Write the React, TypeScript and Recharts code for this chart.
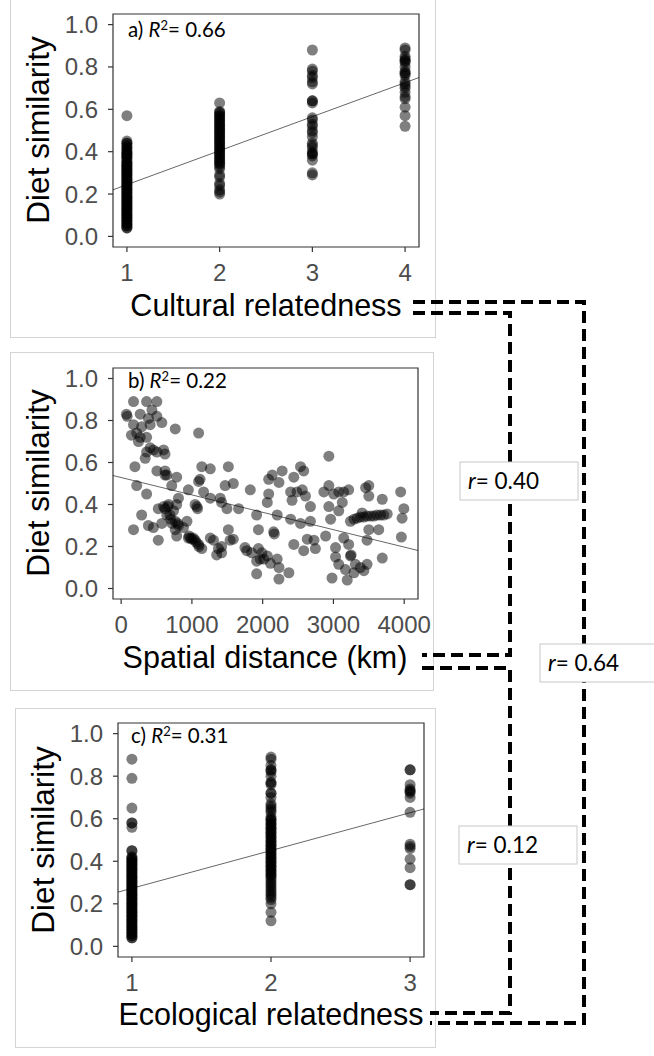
import React from 'react';
import { ScatterChart, Scatter, XAxis, YAxis, ReferenceArea, ReferenceLine } from 'recharts';

// a) diet similarity by cultural relatedness (values per level)
const cultural1 = [
  0.57, 0.45, 0.44, 0.44, 0.43, 0.42, 0.42, 0.41, 0.40, 0.40, 0.39, 0.39, 0.38, 0.38, 0.37, 0.37,
  0.36, 0.35, 0.35, 0.34, 0.34, 0.33, 0.33, 0.32, 0.32, 0.31, 0.31, 0.30, 0.30, 0.29, 0.29, 0.28,
  0.28, 0.27, 0.27, 0.26, 0.26, 0.25, 0.25, 0.24, 0.24, 0.23, 0.23, 0.22, 0.22, 0.21, 0.21, 0.20,
  0.20, 0.19, 0.19, 0.18, 0.18, 0.17, 0.17, 0.16, 0.16, 0.15, 0.15, 0.14, 0.14, 0.13, 0.13, 0.12,
  0.12, 0.11, 0.11, 0.10, 0.10, 0.09, 0.09, 0.08, 0.08, 0.07, 0.07, 0.06, 0.06, 0.05, 0.05, 0.04, 0.04,
];
const cultural2 = [
  0.63, 0.59, 0.585, 0.58, 0.57, 0.565, 0.56, 0.55, 0.545, 0.54, 0.53, 0.525, 0.52, 0.51, 0.505, 0.50,
  0.49, 0.485, 0.48, 0.47, 0.465, 0.46, 0.45, 0.445, 0.44, 0.43, 0.425, 0.42, 0.41, 0.405, 0.40, 0.39,
  0.385, 0.38, 0.37, 0.365, 0.36, 0.35, 0.345, 0.34, 0.33, 0.32, 0.29, 0.28, 0.25, 0.24, 0.22, 0.21, 0.20,
];
const cultural3 = [
  0.88, 0.79, 0.78, 0.76, 0.75, 0.73, 0.72, 0.64, 0.64, 0.63, 0.56, 0.55, 0.53, 0.52, 0.50, 0.49, 0.47,
  0.44, 0.43, 0.42, 0.40, 0.39, 0.39, 0.38, 0.36, 0.30, 0.29,
];
const cultural4 = [
  0.89, 0.88, 0.85, 0.84, 0.83, 0.83, 0.82, 0.80, 0.78, 0.77, 0.77, 0.76, 0.73, 0.72, 0.71, 0.70, 0.68, 0.66,
  0.65, 0.61, 0.57, 0.52,
];
const culturalTicks = [1, 2, 3, 4];
const culturalFit = [{ x: 0.85, y: 0.22 }, { x: 4.15, y: 0.75 }];

// b) diet similarity by spatial distance: [km, similarity]
const spatialPairs: [number, number][] = [
  [75, 0.83], [85, 0.82], [175, 0.89], [360, 0.89], [505, 0.89], [270, 0.83], [435, 0.85], [505, 0.82],
  [385, 0.81], [175, 0.78], [290, 0.77], [410, 0.78], [575, 0.79], [765, 0.76], [1095, 0.74], [145, 0.73],
  [220, 0.74], [270, 0.72], [360, 0.72], [245, 0.70], [410, 0.67], [455, 0.66], [505, 0.65], [600, 0.66],
  [620, 0.64], [360, 0.65], [340, 0.62], [195, 0.58], [505, 0.56], [620, 0.56], [620, 0.54], [645, 0.54],
  [785, 0.53], [715, 0.49], [220, 0.49], [360, 0.45], [950, 0.47], [1140, 0.58], [1260, 0.57], [1115, 0.52],
  [1095, 0.51], [1515, 0.58], [1470, 0.49], [1585, 0.50], [1825, 0.47], [810, 0.43], [785, 0.40], [670, 0.40],
  [600, 0.39], [525, 0.38], [645, 0.35], [690, 0.35], [740, 0.37], [1045, 0.40], [1070, 0.39], [1080, 0.38],
  [1165, 0.46], [1260, 0.43], [1400, 0.43], [1420, 0.41], [1495, 0.38], [1660, 0.38], [1915, 0.35], [290, 0.35],
  [175, 0.28], [385, 0.30], [455, 0.29], [575, 0.31], [765, 0.32], [810, 0.30], [880, 0.29], [930, 0.32],
  [765, 0.28], [785, 0.25], [950, 0.24], [1000, 0.235], [1045, 0.23], [1095, 0.21], [1140, 0.19], [525, 0.23],
  [1260, 0.24], [1305, 0.23], [1375, 0.19], [1420, 0.20], [1515, 0.28], [1540, 0.23], [1585, 0.235], [1350, 0.16],
  [1420, 0.17], [1750, 0.195], [1775, 0.18], [1845, 0.17], [1940, 0.19], [1940, 0.28], [1915, 0.13], [1965, 0.14],
  [1915, 0.07], [700, 0.33], [720, 0.31], [800, 0.31], [960, 0.25], [980, 0.24], [1020, 0.24], [1060, 0.22],
  [1100, 0.20], [660, 0.39], [620, 0.38], [1990, 0.17], [2015, 0.14],
  [2085, 0.52], [2135, 0.54], [2230, 0.505], [2275, 0.56], [2085, 0.45], [2065, 0.41], [2205, 0.35], [2155, 0.27],
  [2165, 0.26], [2065, 0.155], [2110, 0.12], [2205, 0.14], [2230, 0.10], [2370, 0.075], [2230, 0.045], [2440, 0.53],
  [2395, 0.46], [2415, 0.42], [2485, 0.46], [2535, 0.58], [2580, 0.56], [2560, 0.47], [2605, 0.44], [2675, 0.39],
  [2395, 0.33], [2535, 0.31], [2675, 0.32], [2440, 0.21], [2580, 0.18], [2630, 0.235], [2725, 0.23], [2745, 0.19],
  [2935, 0.63], [2865, 0.46], [2935, 0.49], [3005, 0.45], [3075, 0.46], [3145, 0.46], [3215, 0.47], [2935, 0.39],
  [3125, 0.41], [3075, 0.37], [2960, 0.33], [2890, 0.25], [3030, 0.195], [3030, 0.15], [3075, 0.115], [3170, 0.09],
  [2980, 0.05], [3195, 0.04], [3145, 0.24], [3215, 0.21], [3240, 0.155], [3250, 0.16], [3310, 0.115], [3290, 0.075],
  [3380, 0.10], [3430, 0.085], [3475, 0.115], [3240, 0.32], [3290, 0.33], [3335, 0.335], [3380, 0.34], [3430, 0.34],
  [3475, 0.345], [3525, 0.345], [3570, 0.345], [3615, 0.35], [3665, 0.35], [3710, 0.35], [3760, 0.355], [3405, 0.36],
  [3455, 0.48], [3500, 0.49], [3500, 0.44], [3690, 0.425], [3500, 0.28], [3475, 0.23], [3640, 0.28], [3690, 0.145],
  [3950, 0.46], [3995, 0.38], [3970, 0.335], [3960, 0.245],
];
const spatialTicks = [0, 1000, 2000, 3000, 4000];
const spatialFit = [{ x: -115, y: 0.538 }, { x: 4195, y: 0.181 }];

// c) diet similarity by ecological relatedness (values per level)
const ecological1 = [
  0.88, 0.79, 0.65, 0.58, 0.58, 0.56, 0.45, 0.45, 0.42, 0.42, 0.41, 0.41, 0.40, 0.40, 0.39, 0.39,
  0.38, 0.38, 0.37, 0.37, 0.36, 0.36, 0.35, 0.35, 0.34, 0.34, 0.33, 0.33, 0.32, 0.32, 0.31, 0.31,
  0.30, 0.30, 0.29, 0.29, 0.28, 0.28, 0.27, 0.27, 0.26, 0.26, 0.25, 0.25, 0.24, 0.24, 0.23, 0.23,
  0.22, 0.22, 0.21, 0.21, 0.20, 0.20, 0.19, 0.19, 0.18, 0.18, 0.17, 0.17, 0.16, 0.16, 0.15, 0.15,
  0.14, 0.14, 0.13, 0.13, 0.12, 0.12, 0.11, 0.11, 0.10, 0.10, 0.09, 0.09, 0.08, 0.08, 0.07, 0.07,
  0.06, 0.06, 0.05, 0.05, 0.04, 0.04,
];
const ecological2 = [
  0.89, 0.88, 0.85, 0.83, 0.83, 0.82, 0.80, 0.77, 0.77, 0.76, 0.72, 0.72, 0.70, 0.67, 0.66, 0.65, 0.64,
  0.63, 0.61, 0.60, 0.595, 0.59, 0.58, 0.575, 0.57, 0.56, 0.555, 0.55, 0.54, 0.535, 0.53, 0.52, 0.515,
  0.51, 0.50, 0.495, 0.49, 0.48, 0.475, 0.47, 0.46, 0.455, 0.45, 0.44, 0.435, 0.43, 0.42, 0.415, 0.41,
  0.40, 0.395, 0.39, 0.38, 0.375, 0.37, 0.36, 0.355, 0.35, 0.34, 0.335, 0.33, 0.32, 0.31, 0.30, 0.29,
  0.28, 0.27, 0.26, 0.25, 0.24, 0.23, 0.22, 0.20, 0.16, 0.12,
];
const ecological3 = [0.83, 0.83, 0.76, 0.74, 0.73, 0.73, 0.72, 0.70, 0.63, 0.48, 0.47, 0.46, 0.41, 0.37, 0.29, 0.29];
const ecologicalTicks = [1, 2, 3];
const ecologicalFit = [{ x: 0.9, y: 0.255 }, { x: 3.1, y: 0.646 }];

const similarityTicks = [0, 0.2, 0.4, 0.6, 0.8, 1.0];
const r2Values = ['0.66', '0.22', '0.31'];
const rValues = ['0.40', '0.64', '0.12'];

const culturalData = [
  ...cultural1.map((y) => ({ x: 1, y })),
  ...cultural2.map((y) => ({ x: 2, y })),
  ...cultural3.map((y) => ({ x: 3, y })),
  ...cultural4.map((y) => ({ x: 4, y })),
];
const spatialData = spatialPairs.map(([x, y]) => ({ x, y }));
const ecologicalData = [
  ...ecological1.map((y) => ({ x: 1, y })),
  ...ecological2.map((y) => ({ x: 2, y })),
  ...ecological3.map((y) => ({ x: 3, y })),
];

const ARIAL = 'Liberation Sans, Arial, sans-serif';
const CALIBRI = 'Lato, Carlito, sans-serif';
const tickStyle = { fill: '#4d4d4d', fontSize: 24, fontFamily: ARIAL };

const Dot = (p: any) => <circle cx={p.cx} cy={p.cy} r={5.5} fill="#000" fillOpacity={0.5} />;

type Margin = { top: number; right: number; bottom: number; left: number };

function Panel(props: {
  left: number;
  top: number;
  width: number;
  height: number;
  margin: Margin;
  data: { x: number; y: number }[];
  xDomain: [number, number];
  xTicks: number[];
  fit: { x: number; y: number }[];
}) {
  const { left, top, width, height, margin, data, xDomain, xTicks, fit } = props;
  return (
    <div style={{ position: 'absolute', left, top }}>
      <ScatterChart width={width} height={height} margin={margin}>
        <XAxis
          type="number"
          dataKey="x"
          domain={xDomain}
          ticks={xTicks}
          allowDataOverflow
          interval={0}
          height={40}
          axisLine={false}
          tickSize={5}
          tickMargin={12}
          tickLine={{ stroke: '#333', strokeWidth: 1.2 }}
          tick={tickStyle}
        />
        <YAxis
          type="number"
          dataKey="y"
          domain={[-0.05, 1.05]}
          ticks={similarityTicks}
          allowDataOverflow
          interval={0}
          width={60}
          axisLine={false}
          tickSize={5}
          tickMargin={10}
          tickLine={{ stroke: '#333', strokeWidth: 1.2 }}
          tick={tickStyle}
          tickFormatter={(v: number) => v.toFixed(1)}
        />
        <ReferenceArea
          x1={xDomain[0]}
          x2={xDomain[1]}
          y1={-0.05}
          y2={1.05}
          fill="none"
          fillOpacity={0}
          stroke="#333"
          strokeWidth={1.2}
          ifOverflow="visible"
        />
        <Scatter data={data} isAnimationActive={false} shape={Dot} />
        <ReferenceLine segment={fit} stroke="#000" strokeWidth={0.6} ifOverflow="visible" />
      </ScatterChart>
    </div>
  );
}

function Annotation({ x, y, label, value }: { x: number; y: number; label: string; value: string }) {
  return (
    <text x={x} y={y} fontFamily={CALIBRI} fontSize={20.5} fill="#000">
      {label}{' '}
      <tspan fontStyle="italic">R</tspan>
      <tspan dy={-7} fontSize={13}>2</tspan>
      <tspan dy={7}>= {value}</tspan>
    </text>
  );
}

function YTitle({ x, y }: { x: number; y: number }) {
  return (
    <text x={x} y={y} transform={`rotate(-90 ${x} ${y})`} textAnchor="middle" fontFamily={ARIAL} fontSize={31.5} fill="#000">
      Diet similarity
    </text>
  );
}

function XTitle({ x, y, text }: { x: number; y: number; text: string }) {
  return (
    <text x={x} y={y} textAnchor="middle" fontFamily={ARIAL} fontSize={30.5} fill="#000">
      {text}
    </text>
  );
}

function RBox({ x, y, w, value }: { x: number; y: number; w: number; value: string }) {
  return (
    <g>
      <rect x={x} y={y} width={w} height={38} fill="#fff" stroke="#c8c8c8" strokeWidth={1} />
      <text x={x + 8} y={y + 27} fontFamily={CALIBRI} fontSize={22.5} fill="#000">
        <tspan fontStyle="italic">r</tspan>= {value}
      </text>
    </g>
  );
}

const frame = { position: 'absolute' as const, border: '1px solid #d4d4d4', boxSizing: 'border-box' as const };

export default function App() {
  return (
    <div style={{ position: 'absolute', left: 0, top: 0, width: 654, height: 1056, background: '#fff', overflow: 'hidden' }}>
      <div style={{ ...frame, left: 10, top: -2, width: 426, height: 340 }} />
      <div style={{ ...frame, left: 10, top: 352, width: 424, height: 339 }} />
      <div style={{ ...frame, left: 15, top: 708, width: 421, height: 340 }} />

      <Panel
        left={0}
        top={0}
        width={440}
        height={340}
        margin={{ top: 14, right: 21, bottom: 53, left: 53 }}
        data={culturalData}
        xDomain={[0.85, 4.15]}
        xTicks={culturalTicks}
        fit={culturalFit}
      />
      <Panel
        left={0}
        top={340}
        width={440}
        height={350}
        margin={{ top: 28, right: 22, bottom: 51, left: 53 }}
        data={spatialData}
        xDomain={[-115, 4195]}
        xTicks={spatialTicks}
        fit={spatialFit}
      />
      <Panel
        left={0}
        top={690}
        width={440}
        height={366}
        margin={{ top: 33, right: 16, bottom: 59, left: 58 }}
        data={ecologicalData}
        xDomain={[0.9, 3.1]}
        xTicks={ecologicalTicks}
        fit={ecologicalFit}
      />

      <svg width={654} height={1056} style={{ position: 'absolute', left: 0, top: 0, pointerEvents: 'none' }}>
        <Annotation x={128} y={37} label="a)" value={r2Values[0]} />
        <Annotation x={128} y={388} label="b)" value={r2Values[1]} />
        <Annotation x={131} y={743} label="c)" value={r2Values[2]} />

        <YTitle x={49} y={130} />
        <YTitle x={49} y={483} />
        <YTitle x={54} y={840} />
        <XTitle x={266} y={316} text="Cultural relatedness" />
        <XTitle x={265} y={668} text="Spatial distance (km)" />
        <XTitle x={271} y={1025} text="Ecological relatedness" />

        <g fill="none" stroke="#000" strokeWidth={4} strokeDasharray="12 6">
          <path d="M413 302 H584 V1023 H430" />
          <path d="M413 313 H510 V655 H422" />
          <path d="M422 668 H510 V1013 H430" />
        </g>

        <RBox x={460} y={462} w={118} value={rValues[0]} />
        <RBox x={540} y={644} w={120} value={rValues[1]} />
        <RBox x={459} y={826} w={118} value={rValues[2]} />
      </svg>
    </div>
  );
}
